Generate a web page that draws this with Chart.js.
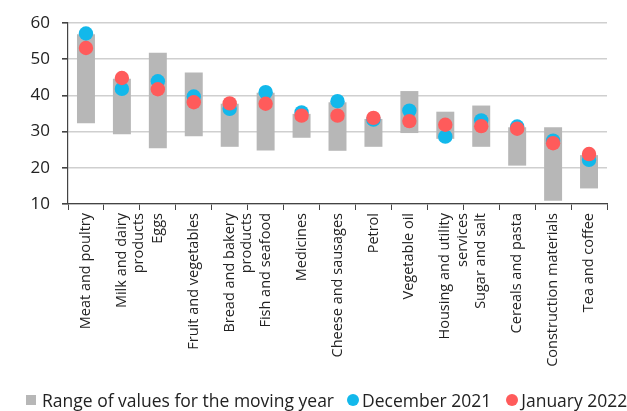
<!DOCTYPE html>
<html>
<head>
<meta charset="utf-8">
<script src="https://cdn.jsdelivr.net/npm/chart.js@4"></script>
<style>
html,body{margin:0;padding:0;background:#fff;}
#wrap{position:relative;width:627px;height:411px;overflow:hidden;}
#legend{position:absolute;left:26px;top:389px;height:22px;display:flex;align-items:center;
  font-family:'Open Sans',sans-serif;font-size:17.5px;color:#222;white-space:nowrap;line-height:22px;}
#legend .sq{width:10px;height:10px;background:#b7b7b7;margin-right:6px;}
#legend .dot{width:12px;height:12px;border-radius:50%;margin-right:3px;}
</style>
</head>
<body>
<div id="wrap">
<canvas id="c" width="627" height="411"></canvas>
<div id="legend"></div>
</div>
<script>
const categories = [
  "Meat and poultry", ["Milk and dairy", "products"], "Eggs", "Fruit and vegetables",
  ["Bread and bakery", "products"], "Fish and seafood", "Medicines", "Cheese and sausages",
  "Petrol", "Vegetable oil", ["Housing and utility", "services"], "Sugar and salt",
  "Cereals and pasta", "Construction materials", "Tea and coffee"
];
const rangeLow  = [32.3, 29.3, 25.4, 28.7, 25.8, 24.8, 28.3, 24.7, 25.8, 29.6, 28.0, 25.8, 20.6, 10.9, 14.3];
const rangeHigh = [56.9, 44.6, 51.8, 46.3, 37.7, 40.7, 34.9, 38.1, 33.5, 41.2, 35.5, 37.2, 31.2, 31.2, 23.5];
const dec2021   = [57.1, 41.8, 43.9, 39.7, 36.3, 40.9, 35.3, 38.4, 33.3, 35.8, 28.6, 33.1, 31.4, 27.5, 22.2];
const jan2022   = [53.1, 44.8, 41.7, 38.1, 37.8, 37.7, 34.4, 34.4, 33.8, 32.9, 31.9, 31.5, 30.8, 26.8, 23.8];
const yTicks = [10, 20, 30, 40, 50, 60];
const seriesNames = ["Range of values for the moving year", "December 2021", "January 2022"];

const FONT = "'Open Sans', sans-serif";
const GRAY = '#b7b7b7', BLUE = '#12b8eb', RED = '#ff5b5b';
const rangeData = rangeLow.map((v, i) => [v, rangeHigh[i]]);

const chart = new Chart(document.getElementById('c'), {
  data: {
    labels: categories,
    datasets: [
      { type: 'line', label: seriesNames[2], data: jan2022, showLine: false,
        pointRadius: 7.2, pointHoverRadius: 7.2, pointBackgroundColor: RED, pointBorderWidth: 0,
        backgroundColor: RED, borderColor: RED, order: 1 },
      { type: 'line', label: seriesNames[1], data: dec2021, showLine: false,
        pointRadius: 7.2, pointHoverRadius: 7.2, pointBackgroundColor: BLUE, pointBorderWidth: 0,
        backgroundColor: BLUE, borderColor: BLUE, order: 2 },
      { type: 'bar', label: seriesNames[0], data: rangeData,
        backgroundColor: GRAY, borderWidth: 0, barPercentage: 0.5, categoryPercentage: 1.0,
        order: 3 }
    ]
  },
  options: {
    responsive: false,
    animation: false,
    layout: { padding: { left: 0, right: 20, top: 23, bottom: 37 } },
    plugins: { tooltip: { enabled: false }, legend: { display: false } },
    scales: {
      x: {
        afterFit: (axis) => { axis.height = 170; },
        grid: { display: true, drawOnChartArea: false, offset: true, tickLength: 6, color: '#444', tickColor: '#444' },
        border: { display: true, color: '#444', width: 1.2 },
        ticks: { minRotation: 90, maxRotation: 90, autoSkip: false, color: '#222',
                 font: { family: FONT, size: 14.5 }, padding: 3 }
      },
      y: {
        min: 10, max: 60,
        afterFit: (axis) => { axis.width = 68; },
        afterBuildTicks: (axis) => { axis.ticks = yTicks.map(v => ({ value: v })); },
        grid: { color: '#cfcfcf', lineWidth: 1.6, tickLength: 6, tickColor: '#444' },
        border: { display: true, color: '#444', width: 1.2 },
        ticks: { color: '#222', font: { family: FONT, size: 17 }, padding: 12 }
      }
    }
  }
});

// HTML legend built from the series names and colours
const legend = document.getElementById('legend');
const legendItems = [
  { name: seriesNames[0], cls: 'sq', color: GRAY, gap: 0 },
  { name: seriesNames[1], cls: 'dot', color: BLUE, gap: 13 },
  { name: seriesNames[2], cls: 'dot', color: RED, gap: 15 }
];
legendItems.forEach(it => {
  const m = document.createElement('span');
  m.className = it.cls; m.style.background = it.color; m.style.marginLeft = it.gap + 'px';
  m.style.display = 'inline-block';
  const t = document.createElement('span'); t.textContent = it.name;
  legend.appendChild(m); legend.appendChild(t);
});
</script>
</body>
</html>
